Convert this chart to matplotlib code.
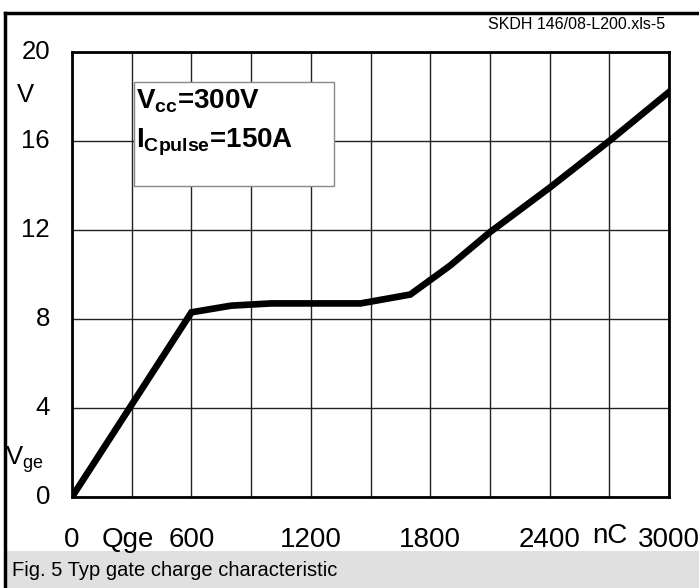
import matplotlib.pyplot as plt
from matplotlib.patches import Rectangle

plt.rcParams['font.family'] = ['Liberation Sans', 'DejaVu Sans']
plt.rcParams['mathtext.fontset'] = 'custom'
plt.rcParams['mathtext.rm'] = 'Liberation Sans'
plt.rcParams['mathtext.it'] = 'Liberation Sans:italic'
plt.rcParams['mathtext.bf'] = 'Liberation Sans:bold'

# gate charge curve (nC, V)
charge_nc = [0, 600, 800, 1000, 1200, 1450, 1700, 1900, 2100, 2400, 2700, 3000]
vge_v = [0, 8.3, 8.6, 8.7, 8.7, 8.7, 9.1, 10.4, 11.9, 13.9, 16.0, 18.2]

x_ticks = [0, 600, 1200, 1800, 2400, 3000]
y_ticks = [0, 4, 8, 12, 16, 20]

W, H = 699, 588
fig = plt.figure(figsize=(W / 100, H / 100), dpi=100)

# outer frame (top and left heavy lines) and caption bar
fig.add_artist(plt.Line2D([5 / W, 1], [1 - 13 / H, 1 - 13 / H], color="black", lw=2.5))
fig.add_artist(plt.Line2D([5 / W, 5 / W], [0, 1 - 13 / H], color="black", lw=2.5))
fig.add_artist(Rectangle((7 / W, 0), 1, 37 / H, transform=fig.transFigure,
                         facecolor="#e0e0e0", edgecolor="none", zorder=-1))
fig.text(12 / W, 18 / H, "Fig. 5 Typ gate charge characteristic", fontsize=14.5,
         va="center", ha="left")
fig.text(665 / W, 1 - 29 / H, "SKDH 146/08-L200.xls-5", fontsize=11.5,
         va="baseline", ha="right")

ax = fig.add_axes([72 / W, (H - 497) / H, (669 - 72) / W, (497 - 52) / H])
ax.set_zorder(2)
ax.set_xlim(0, 3000)
ax.set_ylim(0, 20)
ax.set_xticks(range(0, 3001, 300))
ax.set_yticks(y_ticks)
ax.grid(True, color="#222222", lw=1.0)
ax.tick_params(length=0, labelbottom=False, labelleft=False)
for s in ax.spines.values():
    s.set_linewidth(2)

ax.plot(charge_nc, vge_v, color="black", lw=4.8, solid_joinstyle="miter")

# tick labels placed by data coordinates
for v in x_ticks:
    ax.text(v, -2.25, str(v), fontsize=20, ha="center", va="baseline")
for v in y_ticks:
    ax.text(-110, v, str(v), fontsize=18.5, ha="right", va="center")
ax.text(281, -2.25, "Qge", fontsize=20, ha="center", va="baseline")
ax.text(2705, -2.07, "nC", fontsize=20, ha="center", va="baseline")
ax.text(-236, 18.07, "V", fontsize=18.5, ha="center", va="center")
ax.text(-337, 1.44, r"V$_{\mathregular{ge}}$", fontsize=18.5, ha="left", va="baseline")

# condition box
ax.add_patch(Rectangle((312, 14.0), 1005, 4.65, facecolor="white",
                       edgecolor="#888888", lw=1, zorder=5))
ax.text(322, 17.48, r"$\mathbf{V_{cc}}$=300V", fontsize=20, fontweight="bold",
        ha="left", va="baseline", zorder=6)
ax.text(322, 15.69, r"$\mathbf{I_{Cpulse}}$=150A", fontsize=20, fontweight="bold",
        ha="left", va="baseline", zorder=6)

fig.savefig("out.png", dpi=100)
